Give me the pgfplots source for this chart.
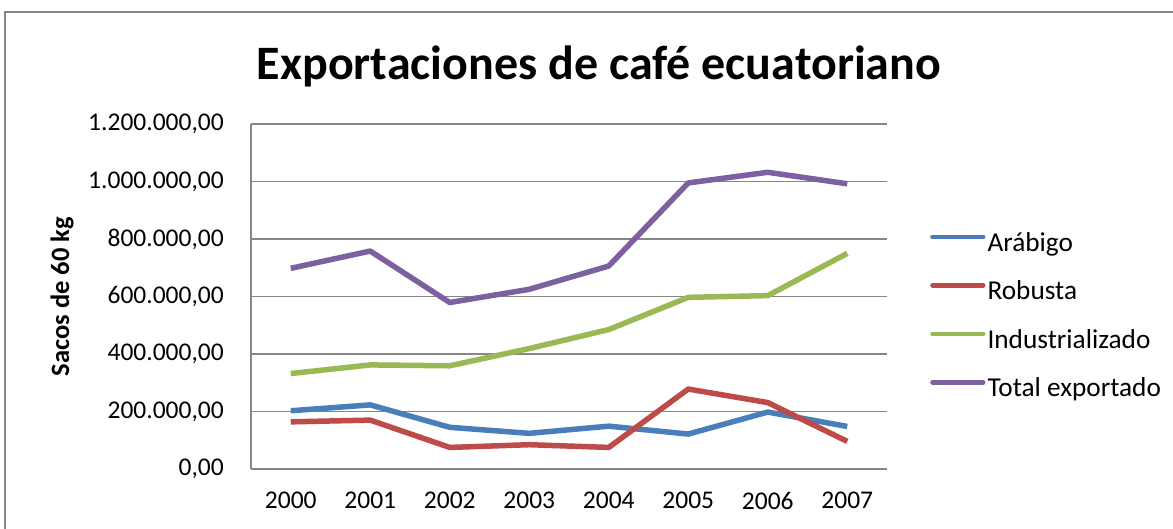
\documentclass[border=0pt]{standalone}
\usepackage{pgfplots}
\pgfplotsset{compat=1.18}
\usepackage{fontspec}
\setmainfont{Carlito}
\definecolor{cblue}{HTML}{4A7EBB}
\definecolor{cred}{HTML}{BE4B48}
\definecolor{cgreen}{HTML}{98B954}
\definecolor{cpurple}{HTML}{7D60A0}
\definecolor{cgrid}{HTML}{868686}
\begin{document}
\begin{tikzpicture}[x=1bp,y=1bp]
\useasboundingbox (0,0) rectangle (1173,529);
\draw[cgrid, line width=1.2bp] (5,0) -- (5,517) -- (1173,517);
\node[anchor=base, font=\fontsize{48bp}{56bp}\selectfont\bfseries, inner sep=0pt] at (599,449) {Exportaciones de café ecuatoriano};
\begin{axis}[
  at={(251bp,60bp)}, anchor=south west,
  scale only axis, width=636bp, height=345bp,
  xmin=-0.5, xmax=7.5, ymin=0, ymax=1200000,
  scaled y ticks=false,
  xtick={0,...,7}, xticklabels={2000,2001,2002,2003,2004,2005,2006,2007},
  ytick={0,200000,400000,600000,800000,1000000,1200000},
  yticklabels={{0,00},{200.000,00},{400.000,00},{600.000,00},{800.000,00},{1.000.000,00},{1.200.000,00}},
  axis lines=left,
  axis line style={cgrid, line width=1.2bp, -},
  major tick length=0pt,
  ymajorgrids, grid style={cgrid, line width=1.2bp},
  tick label style={font=\fontsize{25.5bp}{30bp}\selectfont, inner sep=0pt},
  yticklabel style={anchor=east, xshift=-27bp},
  xticklabel style={anchor=north, yshift=-23bp},
  ylabel={Sacos de 60 kg},
  ylabel style={at={(axis description cs:-0.2972,0.5)}, anchor=center, font=\fontsize{26.5bp}{30bp}\selectfont\bfseries},
  legend style={at={(axis description cs:1.0676,0.439)}, anchor=west, draw=none, fill=none, inner sep=0pt,
    font=\fontsize{27.3bp}{30bp}\selectfont, row sep=25.5bp, column sep=2bp,
    nodes={inner sep=0pt, text height=18bp, text depth=5bp}},
  legend cell align=left,
  legend image code/.code={\draw[#1, line width=4.5bp, line cap=round] (2.2bp,8bp) -- (53bp,8bp);},
  every axis plot/.append style={line width=5.5bp, line join=round, mark=none},
]
\addplot[cblue] coordinates {(0,202500) (1,223000) (2,145000) (3,124000) (4,149000) (5,121500) (6,198000) (7,148000)};
\addplot[cred] coordinates {(0,164000) (1,170000) (2,75000) (3,84500) (4,75000) (5,278000) (6,231000) (7,96000)};
\addplot[cgreen] coordinates {(0,332000) (1,362000) (2,359000) (3,419000) (4,485000) (5,597000) (6,603000) (7,750000)};
\addplot[cpurple] coordinates {(0,698000) (1,758000) (2,579000) (3,625000) (4,706000) (5,995000) (6,1032000) (7,992000)};
\legend{Arábigo,Robusta,Industrializado,Total exportado}
\end{axis}
\end{tikzpicture}
\end{document}
